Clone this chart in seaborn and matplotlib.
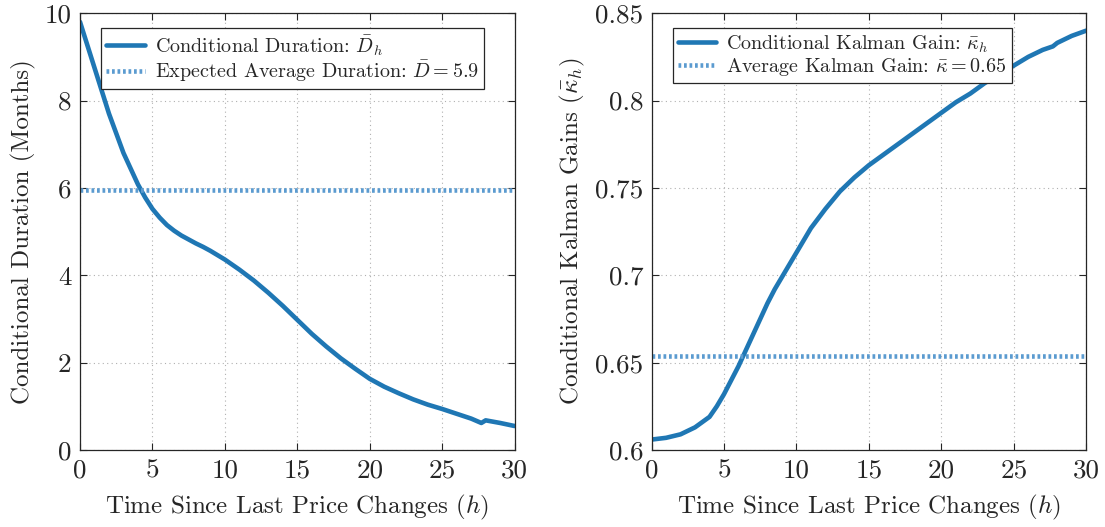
import numpy as np
import pandas as pd
import seaborn as sns
import matplotlib.pyplot as plt
from matplotlib.ticker import FuncFormatter

# donnees
h = [0, 1, 2, 3, 4, 4.5, 5, 5.5, 6, 6.5, 7, 7.5, 8, 8.5, 9, 10, 11, 12, 13, 14,
     15, 16, 17, 18, 19, 20, 21, 22, 23, 24, 25, 26, 27, 27.7, 28, 29, 30]
duration = [9.8, 8.75, 7.7, 6.8, 6.08, 5.78, 5.52, 5.32, 5.15, 5.02, 4.91, 4.82,
            4.73, 4.65, 4.56, 4.36, 4.13, 3.88, 3.6, 3.3, 2.98, 2.66, 2.37, 2.1,
            1.86, 1.63, 1.45, 1.3, 1.16, 1.04, 0.94, 0.83, 0.72, 0.62, 0.68,
            0.62, 0.55]
kalman = [0.606, 0.607, 0.609, 0.613, 0.619, 0.625, 0.632, 0.64, 0.648, 0.657,
          0.666, 0.675, 0.684, 0.692, 0.699, 0.713, 0.727, 0.738, 0.748, 0.756,
          0.763, 0.769, 0.775, 0.781, 0.787, 0.793, 0.799, 0.804, 0.810, 0.815,
          0.820, 0.825, 0.829, 0.831, 0.833, 0.837, 0.840]
avg_duration = 5.95
avg_kalman = 0.654

df = pd.DataFrame({"h": h, "duration": duration, "kalman": kalman})

sns.set_style("ticks")
plt.rcParams['font.family'] = 'serif'
plt.rcParams['font.serif'] = ['cmr10', 'DejaVu Serif']
plt.rcParams['mathtext.fontset'] = 'cm'
plt.rcParams['axes.formatter.use_mathtext'] = True

c_main = "#1f77b4"
c_avg = "#5b9bd0"

fig, axes = plt.subplots(1, 2, figsize=(11.05, 5.27), dpi=100)
fig.subplots_adjust(left=0.0724, right=0.983, bottom=0.146, top=0.975, wspace=0.315)

fmt = FuncFormatter(lambda v, p: "%g" % round(v, 4))

panels = [
    (axes[0], "duration", avg_duration, r"Conditional Duration: $\bar{D}_h$",
     r"Expected Average Duration: $\bar{D}=5.9$", r"Conditional Duration (Months)",
     (0, 10), np.arange(0, 11, 2)),
    (axes[1], "kalman", avg_kalman, r"Conditional Kalman Gain: $\bar{\kappa}_h$",
     r"Average Kalman Gain: $\bar{\kappa}=0.65$", r"Conditional Kalman Gains $(\bar{\kappa}_h)$",
     (0.6, 0.85), np.arange(0.6, 0.851, 0.05)),
]

for ax, col, avg, lab1, lab2, ylab, ylim, yt in panels:
    sns.lineplot(data=df, x="h", y=col, ax=ax, color=c_main, linewidth=3.3, label=lab1)
    ax.axhline(avg, color=c_avg, linestyle=(0, (0.6, 0.6)), linewidth=3.3, label=lab2)
    ax.set_xlim(0, 30)
    ax.set_ylim(*ylim)
    ax.set_xticks(np.arange(0, 31, 5))
    ax.set_yticks(yt)
    ax.xaxis.set_major_formatter(fmt)
    ax.yaxis.set_major_formatter(fmt)
    ax.grid(True, linestyle=(0, (1, 3)), color="#b0b0b0", linewidth=0.8)
    ax.tick_params(direction="in", top=True, right=True, labelsize=19.5, length=5,
                   color="#262626", pad=6)
    for s in ax.spines.values():
        s.set_color("#262626")
        s.set_linewidth(0.9)
    ax.set_xlabel(r"Time Since Last Price Changes $(h)$", fontsize=18, labelpad=8)
    ax.set_ylabel(ylab, fontsize=18, labelpad=6)
    leg = ax.legend(loc="upper left", bbox_to_anchor=(0.04, 0.975), fontsize=14.5,
                    fancybox=False, framealpha=1, edgecolor="#262626",
                    handlelength=1.9, handletextpad=0.5, borderpad=0.25,
                    labelspacing=0.05, borderaxespad=0.2)
    leg.get_frame().set_linewidth(0.9)

plt.savefig("out.png", dpi=100)
